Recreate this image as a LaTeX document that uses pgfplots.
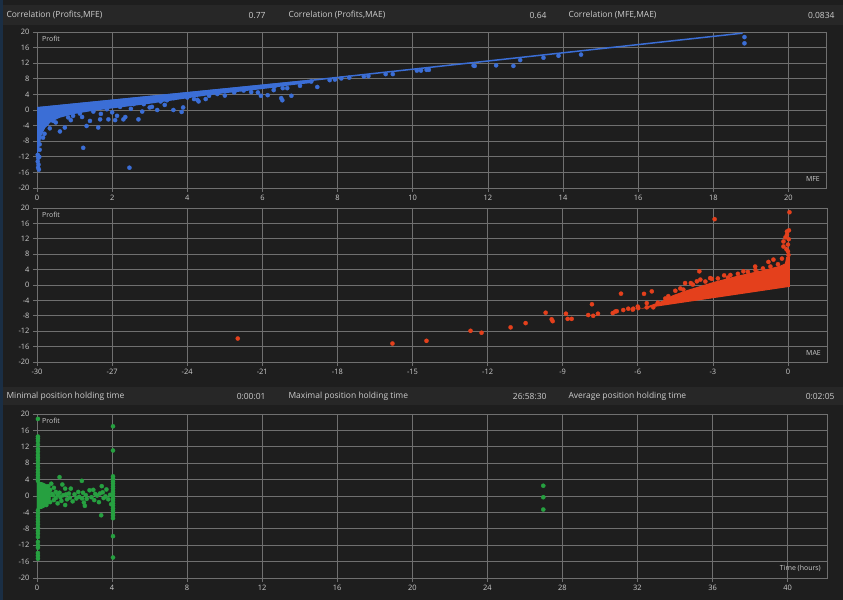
\documentclass[border=0pt]{standalone}
\usepackage{pgfplots}
\pgfplotsset{compat=1.18}
\usepackage{fontspec}
\setmainfont{Open Sans}
\definecolor{bg}{HTML}{1E1E1E}
\definecolor{hdr}{HTML}{272727}
\definecolor{gridc}{HTML}{707070}
\definecolor{txt}{HTML}{CDCDCD}
\definecolor{pblue}{HTML}{3B6ED6}
\definecolor{pred}{HTML}{E4401C}
\definecolor{pgreen}{HTML}{26A040}
\definecolor{strip}{HTML}{1A2E44}
\pgfplotsset{panel/.style={
  scale only axis, anchor=south west,
  axis background/.style={fill=bg},
  axis line style={gridc, line width=0.8bp},
  grid=major, major grid style={gridc, line width=0.7bp},
  tick style={gridc, line width=0.7bp}, tick align=outside, major tick length=4bp,
  ymin=-20, ymax=20, ytick={-20,-16,...,20},
  yticklabels={-20,-16,-12,-8,-4,0,4,8,12,16,20},
  ticklabel style={font=\fontsize{7.5}{8}\selectfont, text=txt},
  xtick pos=bottom, ytick pos=left,
},
pts/.style={only marks, mark=*, mark size=2.1, mark options={draw=#1, fill=#1, line width=0.3bp}},
}
\newcommand{\hdrtext}[1]{\fontsize{8.5}{9}\selectfont #1}
\begin{document}
\begin{tikzpicture}
\useasboundingbox (0,0) rectangle (843bp,600bp);
\fill[bg] (0,0) rectangle (843bp,600bp);
\fill[strip] (0,0) rectangle (3bp,600bp);
% header 1
\fill[hdr] (3bp,575bp) rectangle (843bp,595bp);
\node[anchor=west, text=txt] at (3bp,585bp) {\hdrtext{Correlation (Profits,MFE)}};
\node[anchor=east, text=txt] at (269bp,585bp) {\hdrtext{0.77}};
\node[anchor=west, text=txt] at (285bp,585bp) {\hdrtext{Correlation (Profits,MAE)}};
\node[anchor=east, text=txt] at (550bp,585bp) {\hdrtext{0.64}};
\node[anchor=west, text=txt] at (565bp,585bp) {\hdrtext{Correlation (MFE,MAE)}};
\node[anchor=east, text=txt] at (838bp,585bp) {\hdrtext{0.0834}};
% header 2
\fill[hdr] (3bp,195bp) rectangle (843bp,213bp);
\node[anchor=west, text=txt] at (3bp,204bp) {\hdrtext{Minimal position holding time}};
\node[anchor=east, text=txt] at (269bp,204bp) {\hdrtext{0:00:01}};
\node[anchor=west, text=txt] at (285bp,204bp) {\hdrtext{Maximal position holding time}};
\node[anchor=east, text=txt] at (550bp,204bp) {\hdrtext{26:58:30}};
\node[anchor=west, text=txt] at (565bp,204bp) {\hdrtext{Average position holding time}};
\node[anchor=east, text=txt] at (838bp,204bp) {\hdrtext{0:02:05}};

% ---------- Panel 1: MFE ----------
\begin{axis}[panel, at={(37bp,412bp)}, width=789bp, height=156bp,
  xmin=0, xmax=21, xtick={0,2,...,20},
  xticklabels={0,2,4,6,8,10,12,14,16,18,20}]
\addplot[fill=pblue, draw=pblue, line width=1.5bp] coordinates {
(0,0.55) (7.3,7.6) (7.3,7.1) (6.8,6.6) (6.2,5.8) (5.5,5.0) (5,4.5) (4.5,3.9) (4,3.2)
(3.5,2.5) (3,1.8) (2.5,1.2) (2,0.6) (1.5,0) (1,-0.8) (0.6,-1.8) (0.35,-3) (0.2,-4.5)
(0.1,-6.5) (0.05,-9) (0.02,-10.5) (0,-11)} -- cycle;
\addplot[pblue, line width=1.5bp] coordinates {(0,0.55) (7,7.3) (18.78,19.7)};
\addplot[pts=pblue] coordinates {
(0.02,-11.5) (0.03,-12.3) (0.02,-13.2) (0.04,-14.0) (0.03,-14.8) (0.05,-15.3) (0.06,-12.0) (0.07,-10.2)
(0.07,-8.8) (0.16,-7.1) (0.2,-6.1) (0.34,-4.7) (0.43,-2.8) (0.61,-5.5) (0.74,-4.5) (0.83,-1.9)
(0.96,-1.5) (1.14,-0.9) (1.23,-9.7) (1.32,-4.1) (1.41,-2.8) (1.5,-0.4) (1.63,-4.5) (1.68,-2.4)
(1.86,0.2) (1.9,-2.4) (2.08,-2.6) (2.13,-1.5) (2.21,0.8) (2.3,-2.4) (2.35,-1.8) (2.46,-14.8)
(2.57,1.5) (2.7,-2.4) (2.8,-0.4) (2.84,1.5) (3.0,0.65) (3.06,0.8) (3.2,0.0) (3.29,2.2)
(3.46,2.5) (3.63,0.0) (3.64,3.05) (3.85,-0.5) (3.89,0.65) (4.0,3.2) (4.18,2.8) (4.27,2.6)
(4.49,2.8) (4.58,3.65) (4.8,4.1) (5.25,4.5) (5.5,5.0) (5.88,4.5) (5.96,3.65) (6.14,3.8)
(6.32,6.0) (6.5,3.05) (6.53,2.5) (6.54,5.6) (6.66,5.6) (6.77,3.65)
(0.25,-3.6) (0.5,-3.2) (0.9,-2.6) (1.2,-1.8) (1.7,-1.0) (2.0,-0.6) (2.5,0.3) (3.4,1.3)
(4.3,2.2) (5.0,3.7) (5.7,4.6) (6.3,5.1) (7.0,6.2)
(7.30,7.3) (7.46,5.9) (7.79,7.65) (7.93,7.8) (8.10,8.1) (8.31,8.3) (8.70,8.6) (8.82,8.7)
(9.28,9.2) (9.47,9.2) (10.11,10.1) (10.22,10.1) (10.37,10.3) (10.43,10.3) (11.62,11.4)
(11.65,11.3) (12.22,11.45) (12.68,11.3) (12.86,12.8) (13.48,13.4) (13.88,13.9) (14.48,14.2)
(18.83,18.7) (18.83,17.1)};
\node[anchor=north west, text=txt, font=\fontsize{7}{8}\selectfont, inner sep=1bp] at (rel axis cs:0,1) [xshift=4bp, yshift=-3bp] {Profit};
\node[anchor=south east, text=txt, font=\fontsize{7}{8}\selectfont, inner sep=1bp] at (rel axis cs:1,0) [xshift=-5bp, yshift=5bp] {MFE};
\end{axis}

% ---------- Panel 2: MAE ----------
\begin{axis}[panel, at={(37bp,238bp)}, width=790bp, height=154bp,
  xmin=-30, xmax=1.56, xtick={-30,-27,...,0},
  xticklabels={-30,-27,-24,-21,-18,-15,-12,-9,-6,-3,0}]
\addplot[fill=pred, draw=pred, line width=1bp] coordinates {
(-5.7,-5.9) (0.06,-0.35) (0.06,7.2) (-0.05,7.2) (-0.1,5.5) (-0.3,4.9) (-1,3.7) (-2,2.3)
(-3,0.6) (-4,-1.4) (-4.6,-2.8) (-5,-4.2)} -- cycle;
\addplot[pts=pred] coordinates {
(-21.98,-13.9) (-15.8,-15.2) (-14.44,-14.5) (-12.68,-11.9) (-12.24,-12.4) (-11.08,-11.0)
(-10.48,-9.9) (-9.68,-7.2) (-9.44,-8.9) (-9.4,-9.4) (-8.87,-7.45) (-8.8,-8.8) (-8.64,-8.8)
(-7.98,-7.8) (-7.83,-5.0) (-7.78,-8.0) (-7.59,-7.45) (-6.84,-6.8) (-6.67,-2.25) (-6.58,-6.5)
(-6.38,-6.15) (-6.18,-6.15) (-5.98,-6.0) (-5.75,-2.3) (-5.64,-4.7) (-5.64,-5.8) (-5.44,-1.65)
(-5.38,-5.8) (-4.78,-2.9) (-4.11,0.5) (-4.18,-1.2) (-3.88,0.5) (-3.54,3.55) (-3.64,0.95)
(-3.5,1.4) (-3.11,1.8) (-2.93,17.1) (-3.04,1.6) (-2.55,2.5) (-2.64,0.5) (-1.78,3.55)
(-1.31,4.8) (-0.78,6.0) (-0.58,6.6) (-0.24,6.85) (-0.18,11.3) (-0.04,13.9) (0.06,18.9)
(-0.04,13.05) (0.0,10.5) (0.0,8.75) (-0.18,10.0) (0.02,7.8) (-0.06,9.3) (0.03,11.9)
(-0.1,12.4) (0.04,14.2) (-4.5,-1.5) (-4.3,-0.9) (-3.8,0.1) (-3.3,0.9) (-2.8,1.7) (-2.3,2.6)
(-2.0,2.9) (-1.6,3.4) (-1.3,3.9) (-1.0,4.3) (-0.7,4.8) (-0.4,5.4) (-2.4,1.9) (-1.2,3.2)
(-5.2,-4.6) (-4.9,-3.5) (-6.2,-6.4) (-6.9,-6.9) (-7.0,-7.3) (-6.0,-5.6)};
\node[anchor=north west, text=txt, font=\fontsize{7}{8}\selectfont, inner sep=1bp] at (rel axis cs:0,1) [xshift=4bp, yshift=-3bp] {Profit};
\node[anchor=south east, text=txt, font=\fontsize{7}{8}\selectfont, inner sep=1bp] at (rel axis cs:1,0) [xshift=-5bp, yshift=5bp] {MAE};
\end{axis}

% ---------- Panel 3: Time ----------
\begin{axis}[panel, at={(37bp,22bp)}, width=790bp, height=164bp,
  xmin=0, xmax=42.1, xtick={0,4,...,40},
  xticklabels={0,4,8,12,16,20,24,28,32,36,40}]
\addplot[fill=pgreen, draw=pgreen, line width=1bp] coordinates {
(0,3.4) (0.3,3.2) (0.55,2.6) (0.7,1.2) (0.7,-1.2) (0.5,-2.4) (0.25,-3.0) (0,-3.2)} -- cycle;
\addplot[pts=pgreen] coordinates {
(0.05,18.8) (0.05,14.5) (0.05,14.0) (0.05,13.4) (0.05,12.5) (0.05,11.5) (0.05,10.8) (0.05,10.0)
(0.05,9.3) (0.05,8.6) (0.05,7.9) (0.05,7.2) (0.05,6.5) (0.05,5.8) (0.05,5.1) (0.05,4.4)
(0.05,3.7) (0.05,-3.5) (0.05,-4.2) (0.05,-4.9) (0.05,-5.6) (0.05,-6.3) (0.05,-7.0) (0.05,-7.7)
(0.05,-8.5) (0.05,-9.2) (0.05,-10.0) (0.05,-11.2) (0.05,-12.0) (0.05,-12.6) (0.05,-13.9)
(0.05,-14.6) (0.05,-15.3)
(0.2,2.5) (0.2,-2) (0.3,1.5) (0.3,-1.5) (0.4,2) (0.4,-1) (0.5,1) (0.5,-2.2) (0.6,2.4) (0.6,-0.5)
(0.7,1.5) (0.7,-1.5) (0.76,3) (0.8,0.5) (0.9,-1) (0.9,2) (1.0,1) (1.0,-0.5) (1.1,-1.8) (1.2,4.6)
(1.2,0.8) (1.3,-1.2) (1.35,2.8) (1.4,0.2) (1.5,1.8) (1.5,-2.2) (1.6,-0.8) (1.7,0.6) (1.8,1.8)
(1.9,-1.3) (2.0,0.4) (2.1,-0.6) (2.2,1.0) (2.39,3.7) (2.4,-0.6) (2.45,0.8) (2.5,-1.6) (2.55,-2.4)
(2.6,0.2) (2.8,1.4) (2.9,-0.3) (3.0,1.5) (3.05,-1.0) (3.1,0.5) (3.3,-1.5) (3.42,-4.7) (3.45,2.4)
(3.5,0.9) (3.55,-0.5) (3.7,1.6) (3.8,-0.8) (3.9,0.3) (3.95,-2.0) (0.85,0.2) (1.1,0.3) (1.25,-0.3)
(1.55,0.4) (1.75,-0.4) (2.25,-0.2) (2.65,-0.7) (3.2,0.1) (3.35,0.6) (3.65,-0.1)
(4.05,17.0) (4.05,11.1) (4.05,4.8) (4.05,4.2) (4.05,3.6) (4.05,3.0) (4.05,2.4) (4.05,1.8)
(4.05,1.2) (4.05,0.6) (4.05,0.0) (4.05,-0.6) (4.05,-1.2) (4.05,-1.8) (4.05,-2.4) (4.05,-3.0)
(4.05,-3.6) (4.05,-4.2) (4.05,-4.8) (4.05,-5.4) (4.05,-9.8) (4.05,-15.0)
(26.98,2.5) (26.98,-0.3) (26.98,-3.3)};
\node[anchor=north west, text=txt, font=\fontsize{7}{8}\selectfont, inner sep=1bp] at (rel axis cs:0,1) [xshift=4bp, yshift=-3bp] {Profit};
\node[anchor=south east, text=txt, font=\fontsize{7}{8}\selectfont, inner sep=1bp] at (rel axis cs:1,0) [xshift=-5bp, yshift=5bp] {Time (hours)};
\end{axis}
\end{tikzpicture}
\end{document}
